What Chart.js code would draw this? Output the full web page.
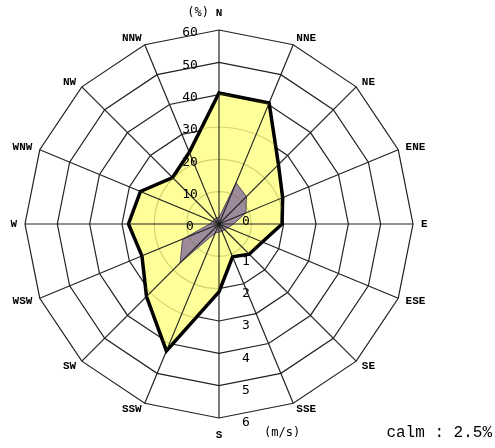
<!DOCTYPE html>
<html>
<head>
<meta charset="utf-8">
<script src="https://cdn.jsdelivr.net/npm/chart.js@4.4.1/dist/chart.umd.min.js"></script>
<style>
    html, body { margin: 0; padding: 0; background: #fff; }
    #wrap { width: 495px; height: 448px; position: relative; }
</style>
</head>
<body>
<div id="wrap"><canvas id="rose"></canvas></div>
<script>
// 16 wind directions, clockwise from north
const directions = ['N', 'NNE', 'NE', 'ENE', 'E', 'ESE', 'SE', 'SSE',
                    'S', 'SSW', 'SW', 'WSW', 'W', 'WNW', 'NW', 'NNW'];

// frequency (%) - yellow polygon
const frequency = [40.5, 40.5, 26, 21.3, 19.5, 14.5, 13.2, 11,
                   21, 42.5, 31.7, 25.8, 28, 26.3, 20.3, 24];

// mean wind speed (m/s) - purple polygon
const speed = [0.2, 1.38, 1.2, 0.9, 0.45, 0.3, 0.25, 0.25,
               0.25, 0.3, 1.7, 1.22, 0.28, 0.22, 0.2, 0.22];

const freqTicks = [0, 10, 20, 30, 40, 50, 60];
const speedTicks = [0, 1, 2, 3, 4, 5, 6];
const calmText = 'calm : 2.5%';

// draws the faint rings + spokes inside the yellow area and all the text
const roseDecor = {
    id: 'roseDecor',
    afterDatasetsDraw(chart) {
        const ctx = chart.ctx;
        const r = chart.scales.r;
        const pts = chart.getDatasetMeta(0).data;

        ctx.save();
        ctx.beginPath();
        pts.forEach((p, i) => i === 0 ? ctx.moveTo(p.x, p.y) : ctx.lineTo(p.x, p.y));
        ctx.closePath();
        ctx.clip();

        // circular rings (only visible inside the filled area)
        ctx.strokeStyle = 'rgba(130, 130, 40, 0.35)';
        ctx.lineWidth = 1.2;
        freqTicks.slice(1).forEach(v => {
            ctx.beginPath();
            ctx.arc(r.xCenter, r.yCenter, r.getDistanceFromCenterForValue(v), 0, Math.PI * 2);
            ctx.stroke();
        });

        // spokes
        ctx.strokeStyle = '#222';
        ctx.lineWidth = 1.1;
        directions.forEach((d, i) => {
            const p = r.getPointPosition(i, r.drawingArea);
            ctx.beginPath();
            ctx.moveTo(r.xCenter, r.yCenter);
            ctx.lineTo(p.x, p.y);
            ctx.stroke();
        });
        ctx.restore();
    },
    afterDraw(chart) {
        const ctx = chart.ctx;
        const r = chart.scales.r;
        const s = chart.scales.rSpeed;
        ctx.save();
        ctx.fillStyle = '#000';

        // direction labels
        ctx.font = 'bold 11px "Liberation Mono"';
        ctx.textBaseline = 'middle';
        directions.forEach((d, i) => {
            const p = r.getPointPosition(i, r.drawingArea);
            const th = i * Math.PI * 2 / directions.length;
            const sn = Math.sin(th), cs = Math.cos(th);
            let x = p.x + 8 * sn;
            let y = p.y - 7 * cs;
            if (Math.abs(sn) < 0.01) {
                ctx.textAlign = 'center';
                y = p.y - 17 * cs;
            } else {
                ctx.textAlign = sn > 0 ? 'left' : 'right';
            }
            ctx.fillText(d, x, y);
        });

        // unit labels
        ctx.font = '12px "DejaVu Sans Mono"';
        ctx.textAlign = 'right';
        ctx.fillText('(%)', r.xCenter - 10, r.yCenter - r.drawingArea - 17);
        ctx.textAlign = 'left';
        ctx.fillText('(m/s)', r.xCenter + 45, r.yCenter + r.drawingArea + 15);

        // % ticks up the north spoke
        ctx.textAlign = 'center';
        ctx.font = '13px "DejaVu Sans Mono"';
        freqTicks.forEach(v => {
            ctx.fillText(String(v), r.xCenter - 29, r.yCenter - r.getDistanceFromCenterForValue(v) + 3);
        });

        // m/s ticks down the south side
        speedTicks.forEach(v => {
            const off = v === 0 ? -2 : 5;
            ctx.fillText(String(v), s.xCenter + 27, s.yCenter + s.getDistanceFromCenterForValue(v) + off);
        });

        // calm
        ctx.font = '16px "Liberation Mono"';
        ctx.textAlign = 'right';
        ctx.fillText(calmText, 492, 433);
        ctx.restore();
    }
};

function init() {
    const ctx = document.getElementById('rose').getContext('2d');
    window.roseChart = new Chart(ctx, {
        type: 'radar',
        data: {
            labels: directions,
            datasets: [{
                label: 'frequency',
                data: frequency,
                rAxisID: 'r',
                order: 2,
                backgroundColor: '#ffff99',
                borderColor: '#000',
                borderWidth: 3.5,
                fill: true,
                pointRadius: 0,
                tension: 0
            }, {
                label: 'speed',
                data: speed,
                rAxisID: 'rSpeed',
                order: 1,
                backgroundColor: 'rgba(140, 118, 155, 0.85)',
                borderColor: '#5e4a68',
                borderWidth: 1,
                fill: true,
                pointRadius: 0,
                tension: 0
            }]
        },
        options: {
            responsive: true,
            maintainAspectRatio: false,
            animation: false,
            layout: { padding: { left: 25, right: 82, top: 30, bottom: 30 } },
            plugins: {
                legend: { display: false },
                tooltip: { enabled: false }
            },
            scales: {
                r: {
                    type: 'radialLinear',
                    min: 0,
                    max: 60,
                    ticks: { stepSize: 10, display: false },
                    grid: { color: '#222', lineWidth: 1.2, circular: false },
                    angleLines: { color: '#222', lineWidth: 1.2 },
                    pointLabels: { display: false }
                },
                rSpeed: {
                    type: 'radialLinear',
                    axis: 'r',
                    min: 0,
                    max: 6,
                    display: false,
                    ticks: { stepSize: 1, display: false },
                    pointLabels: { display: false }
                }
            }
        },
        plugins: [roseDecor]
    });
}

document.addEventListener('DOMContentLoaded', init);
</script>
</body>
</html>
